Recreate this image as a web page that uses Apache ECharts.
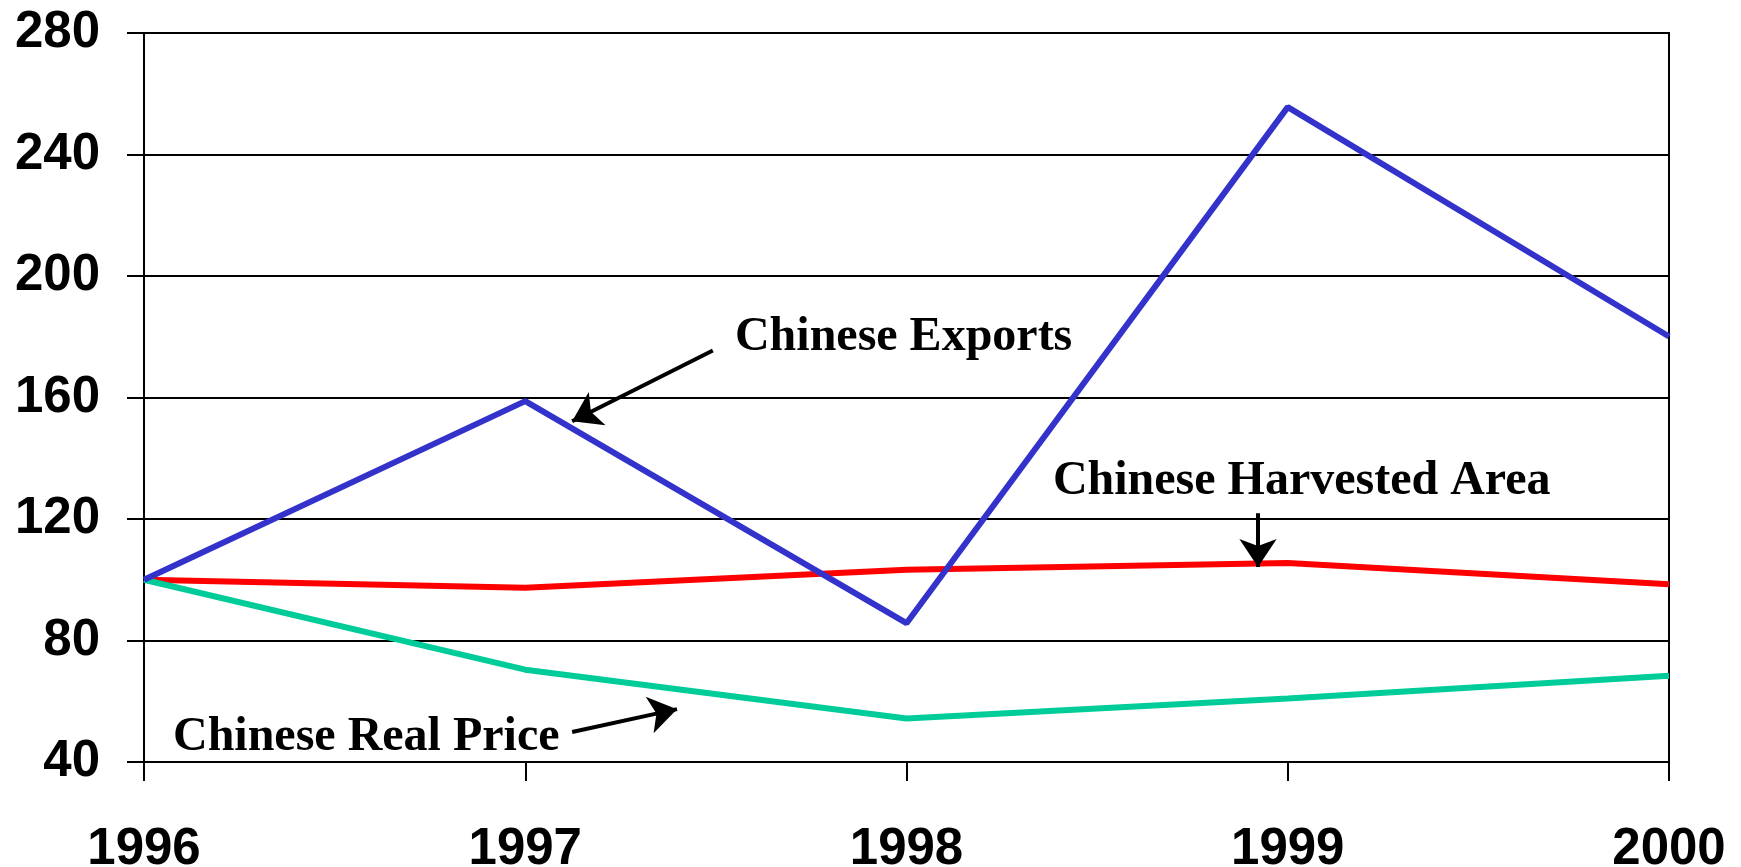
<!DOCTYPE html>
<html>
<head>
<meta charset="utf-8">
<script src="https://cdn.jsdelivr.net/npm/echarts@6/dist/echarts.min.js"></script>
<style>
  html, body { margin: 0; padding: 0; background: #fff; }
  #main { width: 1741px; height: 867px; }
</style>
</head>
<body>
<div id="main"></div>
<script>
// years and index values (1996 = 100)
var years = [1996, 1997, 1998, 1999, 2000];
var exportsIdx = [100, 158.8, 85.7, 255.6, 180.1];
var areaIdx = [100, 97.4, 103.3, 105.5, 98.5];
var priceIdx = [100, 70.4, 54.3, 60.9, 68.4];
var yTicks = [40, 80, 120, 160, 200, 240, 280];

// annotation positions, in data units
var notes = [
    { text: 'Chinese Exports', at: [1997.550, 179.8], from: [1997.492, 175.5], to: [1997.123, 152.2] },
    { text: 'Chinese Harvested Area', at: [1998.384, 132.3], from: [1998.922, 121.9], to: [1998.922, 104.2] },
    { text: 'Chinese Real Price', at: [1996.076, 48.1], from: [1997.123, 49.9], to: [1997.398, 57.4] }
];

function pairs(vals) {
    return years.map(function (y, i) { return [y, vals[i]]; });
}

var myChart = echarts.init(document.getElementById('main'));

var option = {
    animation: false,
    grid: {
        left: 144,
        right: 72,
        top: 33,
        bottom: 105,
        outerBoundsMode: 'none',
        show: true,
        borderColor: '#000',
        borderWidth: 2
    },
    xAxis: {
        type: 'value',
        min: years[0],
        max: years[years.length - 1],
        interval: 1,
        splitLine: { show: false },
        axisLine: { lineStyle: { color: '#000', width: 2 } },
        axisTick: { show: true, length: 19, lineStyle: { color: '#000', width: 2 } },
        axisLabel: {
            margin: 62,
            color: '#000',
            fontFamily: 'Liberation Sans',
            fontWeight: 'bold',
            fontSize: 51,
            formatter: function (v) { return String(v); }
        }
    },
    yAxis: {
        type: 'value',
        min: yTicks[0],
        max: yTicks[yTicks.length - 1],
        interval: 40,
        axisLine: { show: true, lineStyle: { color: '#000', width: 2 } },
        axisTick: { show: true, length: 17, lineStyle: { color: '#000', width: 2 } },
        splitLine: { lineStyle: { color: '#000', width: 2 } },
        axisLabel: {
            margin: 44,
            color: '#000',
            fontFamily: 'Liberation Sans',
            fontWeight: 'bold',
            fontSize: 51
        }
    },
    series: [
        {
            name: 'Chinese Exports',
            type: 'line',
            data: pairs(exportsIdx),
            showSymbol: false,
            lineStyle: { color: '#3333CC', width: 6 },
            z: 5
        },
        {
            name: 'Chinese Harvested Area',
            type: 'line',
            data: pairs(areaIdx),
            showSymbol: false,
            lineStyle: { color: '#FF0000', width: 6 },
            z: 4
        },
        {
            name: 'Chinese Real Price',
            type: 'line',
            data: pairs(priceIdx),
            showSymbol: false,
            lineStyle: { color: '#00CC99', width: 6 },
            z: 4
        },
        {
            // arrows pointing from the labels to the lines
            type: 'lines',
            coordinateSystem: 'cartesian2d',
            symbol: ['none', 'arrow'],
            symbolSize: [22, 28],
            lineStyle: { color: '#000', width: 4, opacity: 1 },
            data: notes.map(function (n) { return { coords: [n.from, n.to] }; }),
            z: 6
        }
    ]
};
myChart.setOption(option);

// text labels placed after the grid is laid out
var texts = notes.map(function (n) {
    var p = myChart.convertToPixel({ gridIndex: 0 }, n.at);
    return {
        type: 'text',
        x: p[0],
        y: p[1],
        z: 10,
        style: {
            text: n.text,
            fill: '#000',
            fontFamily: 'Liberation Serif',
            fontWeight: 'bold',
            fontSize: 48,
            align: 'left',
            verticalAlign: 'middle'
        }
    };
});
myChart.setOption({ graphic: texts });
</script>
</body>
</html>
